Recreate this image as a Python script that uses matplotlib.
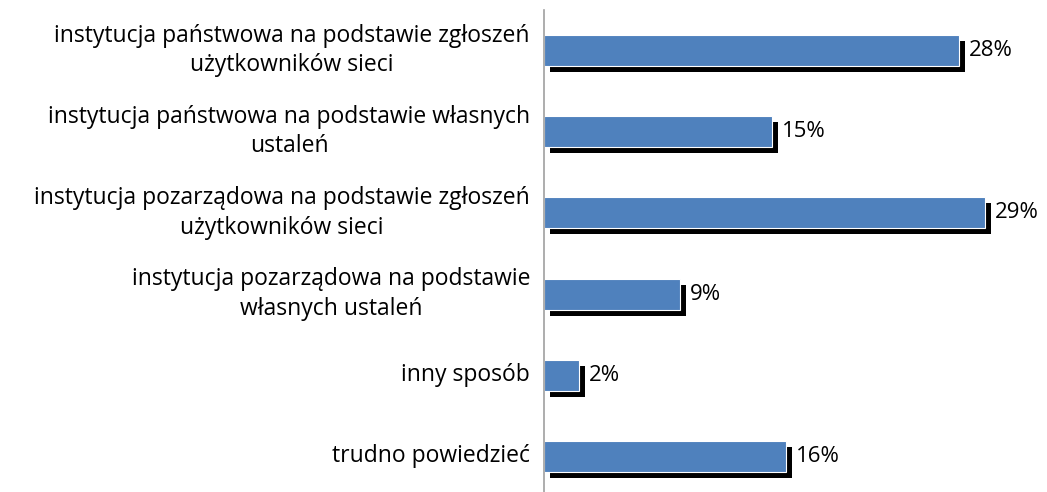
import matplotlib
matplotlib.use("Agg")
import matplotlib.pyplot as plt
import matplotlib.transforms as mtransforms

categories = [
    "instytucja państwowa na podstawie zgłoszeń\nużytkowników sieci",
    "instytucja państwowa na podstawie własnych\nustaleń",
    "instytucja pozarządowa na podstawie zgłoszeń\nużytkowników sieci",
    "instytucja pozarządowa na podstawie\nwłasnych ustaleń",
    "inny sposób",
    "trudno powiedzieć",
]
values = [27.5, 15.1, 29.2, 9.0, 2.3, 16.0]
value_labels = ["28%", "15%", "29%", "9%", "2%", "16%"]

plt.rcParams['font.family'] = ['Open Sans', 'DejaVu Sans']

W, H = 1047, 492
fig = plt.figure(figsize=(W / 100, H / 100), dpi=100)
ax_left = 544 / W
ax_right = 1040 / W
ax_top = 10
ax_bot = 497
ax = fig.add_axes([ax_left, 1 - ax_bot / H, ax_right - ax_left, (ax_bot - ax_top) / H])

px_per_unit = 15.1
ax.set_xlim(0, (1040 - 544) / px_per_unit)
ax.set_ylim(len(categories) - 0.5, -0.5)

y = list(range(len(categories)))
bh = 0.38
shadow = mtransforms.offset_copy(ax.transData, fig=fig, x=6, y=-6, units='dots')
ax.barh(y, values, height=bh, color='black', transform=shadow, zorder=1)
ax.barh(y, values, height=bh, color='#4F81BD', edgecolor='white', linewidth=0.8, zorder=2)

lab_tr = mtransforms.offset_copy(ax.transData, fig=fig, x=10, y=0, units='dots')
for yi, v, lab in zip(y, values, value_labels):
    ax.text(v, yi, lab, transform=lab_tr, ha='left', va='center', fontsize=16, color='black')

cat_tr = mtransforms.offset_copy(ax.transData, fig=fig, x=-14, y=0, units='dots')
for yi, c in zip(y, categories):
    ax.text(0, yi, c, transform=cat_tr,
            ha='right', va='center', multialignment='center', fontsize=16.5, color='black',
            linespacing=1.3)

for s in ['top', 'right', 'bottom']:
    ax.spines[s].set_visible(False)
ax.spines['left'].set_color('#A0A0A0')
ax.spines['left'].set_linewidth(1.2)
ax.set_xticks([])
ax.set_yticks([])

fig.savefig("out.png", dpi=100)
